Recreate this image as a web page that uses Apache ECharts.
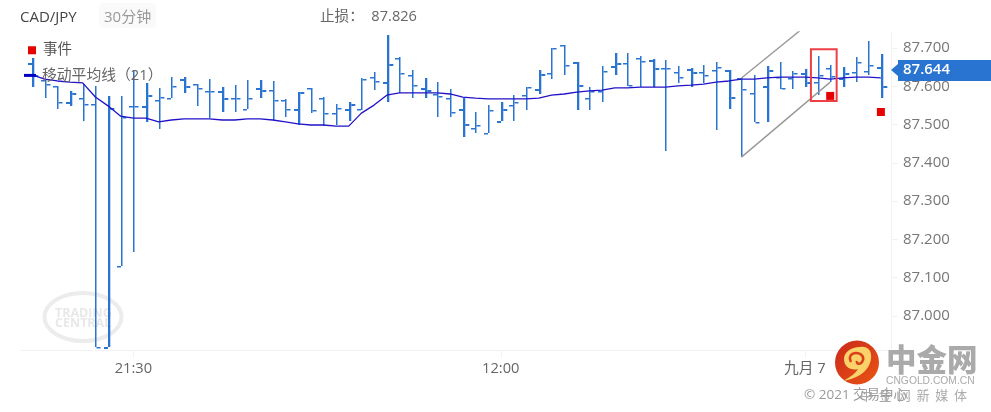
<!DOCTYPE html>
<html><head><meta charset="utf-8">
<style>html,body{margin:0;padding:0;background:#fff}#c{width:991px;height:412px}</style>
<script src="https://cdn.jsdelivr.net/npm/echarts@6/dist/echarts.min.js"></script>
</head><body><div id="c"></div>
<script>
const opens=[87.661,87.616,87.601,87.559,87.569,87.554,86.919,87.131,87.549,87.549,87.564,87.569,87.619,87.606,87.588,87.588,87.569,87.541,87.596,87.590,87.564,87.541,87.596,87.569,87.530,87.541,87.541,87.624,87.611,87.674,87.630,87.596,87.580,87.569,87.541,87.491,87.478,87.509,87.551,87.577,87.593,87.635,87.708,87.663,87.569,87.588,87.653,87.661,87.674,87.669,87.648,87.637,87.645,87.637,87.643,87.643,87.622,87.583,87.601,87.624,87.622,87.635,87.611,87.648,87.622,87.637,87.640,87.650];
const closes=[87.630,87.606,87.559,87.583,87.554,86.919,87.543,87.520,87.549,87.577,87.572,87.601,87.601,87.596,87.588,87.569,87.569,87.569,87.590,87.564,87.541,87.585,87.538,87.530,87.543,87.554,87.619,87.614,87.658,87.635,87.603,87.590,87.575,87.533,87.502,87.499,87.538,87.541,87.559,87.598,87.632,87.700,87.656,87.603,87.588,87.640,87.661,87.603,87.666,87.648,87.648,87.624,87.637,87.630,87.650,87.572,87.593,87.507,87.643,87.596,87.635,87.611,87.630,87.627,87.635,87.663,87.656,87.601];
const lows=[87.598,87.569,87.541,87.549,87.509,86.919,86.919,87.131,87.167,87.507,87.489,87.569,87.583,87.549,87.517,87.533,87.533,87.541,87.569,87.512,87.520,87.499,87.530,87.496,87.499,87.509,87.538,87.590,87.559,87.583,87.569,87.569,87.520,87.520,87.468,87.478,87.478,87.509,87.509,87.538,87.580,87.619,87.630,87.538,87.538,87.559,87.630,87.601,87.598,87.598,87.431,87.609,87.598,87.609,87.486,87.541,87.415,87.507,87.507,87.593,87.593,87.598,87.577,87.611,87.598,87.611,87.630,87.569];
const highs=[87.674,87.619,87.601,87.588,87.606,87.601,87.575,87.575,87.643,87.609,87.596,87.624,87.624,87.606,87.619,87.598,87.603,87.616,87.616,87.614,87.567,87.585,87.596,87.572,87.554,87.559,87.622,87.637,87.734,87.677,87.643,87.622,87.611,87.593,87.569,87.533,87.551,87.559,87.577,87.598,87.643,87.700,87.708,87.663,87.598,87.653,87.687,87.687,87.679,87.671,87.669,87.653,87.648,87.656,87.663,87.643,87.622,87.630,87.653,87.663,87.640,87.645,87.679,87.656,87.650,87.677,87.718,87.684];
const maValues=[87.630,87.619,87.614,87.611,87.609,87.572,87.549,87.522,87.517,87.517,87.507,87.512,87.515,87.515,87.515,87.512,87.512,87.515,87.515,87.512,87.507,87.502,87.499,87.499,87.496,87.496,87.530,87.551,87.577,87.583,87.583,87.583,87.583,87.580,87.572,87.569,87.567,87.567,87.567,87.567,87.569,87.577,87.580,87.585,87.588,87.590,87.596,87.596,87.598,87.598,87.598,87.601,87.603,87.606,87.611,87.614,87.619,87.619,87.622,87.624,87.624,87.624,87.622,87.619,87.622,87.624,87.624,87.622];
const eventPoints=[[63,87.575],[67,87.533]];
const wedgeUpper=[[56,87.622],[61,87.756]];
const wedgeLower=[[56,87.415],[63,87.611]];
const highlightBox=[61.48,87.697,63.51,87.562];
const currentPrice=87.644;
const stopLoss='87.826';
const yTicks=[87.0,87.1,87.2,87.3,87.4,87.5,87.6,87.7];
const xTickIndex=[8,37,61];
const xTickLabels=['21:30','12:00','九月 7'];
const FONT='"Open Sans","Noto Sans CJK SC",sans-serif';
const BAR='#2874d0';

echarts.graphic.registerShape('logoCloud',echarts.graphic.extendShape({
  buildPath(ctx){
    ctx.moveTo(860,347);
    ctx.bezierCurveTo(866,346,870,349,871,354);
    ctx.bezierCurveTo(872,362,868,370,860,375);
    ctx.bezierCurveTo(855,378,849,380,843,381);
    ctx.bezierCurveTo(850,377,855,374,858,369);
    ctx.bezierCurveTo(851,371,844,367,844,359);
    ctx.bezierCurveTo(844,352,851,347,860,347);
    ctx.closePath();
  }
}));
echarts.graphic.registerShape('logoSwirl',echarts.graphic.extendShape({
  buildPath(ctx){
    ctx.moveTo(851,362);
    ctx.bezierCurveTo(848,356,852,353,856,353);
    ctx.bezierCurveTo(862,353,865,358,862,362);
    ctx.bezierCurveTo(860,365,856,364,857,361);
  }
}));

const chart=echarts.init(document.getElementById('c'),null,{renderer:'canvas'});
const ohlc=opens.map((o,i)=>[i,o,closes[i],lows[i],highs[i]]);
const isThick=i=>i<24?(i%3===0):(i%3===1);

function renderBar(params,api){
  const i=api.value(0);
  const x=Math.round(api.coord([i,87])[0]);
  const yo=Math.round(api.coord([i,api.value(1)])[1]);
  const yc=Math.round(api.coord([i,api.value(2)])[1]);
  const yl=Math.round(api.coord([i,api.value(3)])[1]);
  const yh=Math.round(api.coord([i,api.value(4)])[1]);
  const thick=isThick(i), w=thick?2.3:1.5, t=thick?2:1.5;
  const style={fill:BAR};
  const r=(a,b,c,d)=>({type:'rect',shape:{x:a,y:b,width:c,height:d},style});
  return {type:'group',children:[
    r(x,yh,w,Math.max(yl-yh,1)),
    r(x-4,yo,4,t),
    r(x+w,yc,4,t)
  ]};
}
function renderBox(params,api){
  const a=api.coord([api.value(0),api.value(1)]);
  const b=api.coord([api.value(2),api.value(3)]);
  return {type:'rect',shape:{x:a[0],y:a[1],width:b[0]-a[0],height:b[1]-a[1]},
    style:{fill:'none',stroke:'#ee3f46',lineWidth:2}};
}
function renderPrice(params,api){
  const c=api.coord([67.8,api.value(1)]);
  const l=c[0]+7, y=Math.round(c[1]);
  return {type:'group',children:[
    {type:'polygon',shape:{points:[[c[0],y],[l,y-6],[l,y-10],[991,y-10],[991,y+11],[l,y+11],[l,y+6]]},style:{fill:'#2874d0'}},
    {type:'text',style:{x:903,y:y,text:api.value(1).toFixed(3),fill:'#fff',font:'600 15px '+FONT,textVerticalAlign:'middle'}}
  ]};
}

chart.setOption({
  animation:false,
  grid:{left:21,right:100,top:32,bottom:62},
  legend:[
    {left:28,top:43,padding:0,itemWidth:8,itemHeight:8,itemGap:0,selectedMode:false,
     data:[{name:'事件',icon:'rect',itemStyle:{color:'#e60000',opacity:1}}],textStyle:{color:'#555',fontSize:14.5,fontFamily:FONT,padding:[0,0,0,2]}},
    {left:24,top:68,padding:0,itemWidth:12,itemHeight:3,selectedMode:false,
     data:[{name:'移动平均线（21）',icon:'rect',itemStyle:{color:'#0000c0'}}],textStyle:{color:'#666',fontSize:14.8,fontFamily:FONT,padding:[3,0,0,1]}}
  ],
  xAxis:{type:'value',min:-0.868,max:67.8,
    axisLine:{show:true,onZero:false,lineStyle:{color:'#f2f2f2'}},
    splitLine:{show:false},
    axisTick:{show:true,length:8,customValues:xTickIndex,lineStyle:{color:'#f2f2f2'}},
    axisLabel:{customValues:xTickIndex,margin:11,color:'#666',fontSize:14.7,fontFamily:FONT,
      formatter:v=>xTickLabels[xTickIndex.indexOf(v)]||''}},
  yAxis:{type:'value',position:'right',min:86.911,max:87.742,
    axisLine:{show:true,onZero:false,lineStyle:{color:'#f2f2f2'}},
    splitLine:{show:false},
    axisTick:{show:true,length:7,customValues:yTicks,lineStyle:{color:'#f2f2f2'}},
    axisLabel:{customValues:yTicks,margin:12,color:'#777',fontSize:15,fontFamily:FONT,padding:[2,0,0,0],formatter:v=>v.toFixed(3)}},
  series:[
    {type:'custom',name:'CAD/JPY',data:ohlc,renderItem:renderBar,encode:{x:0,y:[1,2,3,4]},z:2,clip:false,silent:true},
    {type:'line',name:'移动平均线（21）',data:maValues.map((v,i)=>[i,v]),showSymbol:false,symbol:'none',smooth:false,
      lineStyle:{color:'#2212c8',width:1.3},itemStyle:{color:'#0000c0'},z:3},
    {type:'line',data:wedgeUpper,showSymbol:false,symbol:'none',lineStyle:{color:'#999',width:1.4},z:4,clip:true},
    {type:'line',data:wedgeLower,showSymbol:false,symbol:'none',lineStyle:{color:'#999',width:1.4},z:4},
    {type:'custom',data:[highlightBox],renderItem:renderBox,encode:{x:[0,2],y:[1,3]},z:5,silent:true},
    {type:'scatter',name:'事件',data:eventPoints,symbol:'rect',symbolSize:8,itemStyle:{color:'#e60000',opacity:1},z:6},
    {type:'custom',data:[[67,currentPrice]],renderItem:renderPrice,encode:{x:0,y:1},z:7,clip:false,silent:true}
  ],
  graphic:[
    {type:'text',x:20,y:10,style:{text:'CAD/JPY',fill:'#444',font:'15px '+FONT}},
    {type:'rect',shape:{x:99,y:3,width:57,height:25,r:4},style:{fill:'#fafafa'}},
    {type:'text',x:104,y:10,style:{text:'30分钟',fill:'#999',font:'15px '+FONT}},
    {type:'text',x:320,y:10,style:{text:'止损：  '+stopLoss,fill:'#666',font:'14.6px '+FONT}},
    {type:'ellipse',shape:{cx:83,cy:317,rx:38.5,ry:24},style:{fill:'none',stroke:'#ececec',lineWidth:4}},
    {type:'text',x:55,y:307,style:{text:'TRADING',fill:'#e8e8e8',font:'bold 12.5px '+FONT}},
    {type:'text',x:55,y:317,style:{text:'CENTRAL',fill:'#e8e8e8',font:'bold 12.5px '+FONT}},
    {type:'circle',z:20,shape:{cx:857,cy:362.5,r:22},style:{fill:new echarts.graphic.LinearGradient(0,0,1,1,[{offset:0,color:'#c9281a'},{offset:1,color:'#ea5514'}])}},
    {type:'logoCloud',z:21,style:{fill:'#fbd26a'}},
    {type:'logoSwirl',z:22,style:{fill:'none',stroke:'#d8401a',lineWidth:2.5}},
    {type:'text',z:20,x:886,y:344,style:{text:'中金网',fill:'#aaa',font:'900 30.5px "Noto Sans CJK SC"'}},
    {type:'text',z:20,x:886,y:376,style:{text:'CNGOLD.COM.CN',fill:'#aaa',font:'10.3px "Liberation Sans"'}},
    {type:'text',z:19,x:804,y:388,style:{text:'© 2021 交易中心',fill:'#999',font:'13.5px '+FONT}},
    {type:'text',z:20,x:860,y:389,style:{text:'中  金  网  新  媒  体',fill:'#aaa',font:'13px "Noto Sans CJK SC"'}}
  ]
});
</script></body></html>
